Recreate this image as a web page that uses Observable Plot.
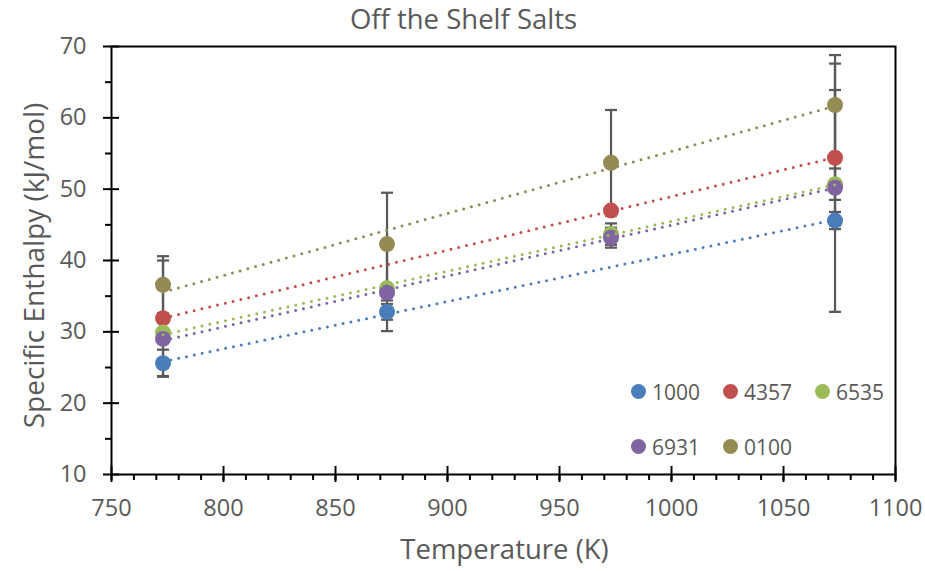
<!DOCTYPE html>
<html><head><meta charset="utf-8">
<script src="https://cdn.jsdelivr.net/npm/d3@7"></script>
<script src="https://cdn.jsdelivr.net/npm/@observablehq/plot@0.6"></script>
<style>
body{margin:0;background:#fff;}
#wrap{position:relative;width:925px;height:571px;font-family:"Open Sans",sans-serif;}
#legend{position:absolute;left:631px;top:376px;display:grid;grid-template-columns:92px 92px 92px;row-gap:24px;}
.item{display:flex;align-items:center;height:31px;font-size:21px;color:#595959;}
.sw{width:15px;height:15px;border-radius:50%;margin-right:6px;flex:none;}
</style></head><body><div id="wrap"><div id="legend"></div></div>
<script>
const chartTitle = "Off the Shelf Salts";
const xLabel = "Temperature (K)";
const yLabel = "Specific Enthalpy (kJ/mol)";
const temperatures = [773, 873, 973, 1073];
const seriesNames = ["1000", "4357", "6535", "6931", "0100"];
const seriesColors = ["#4a7ebb", "#c0504d", "#9bbb59", "#8064a2", "#948a54"];
const enthalpy1000 = [25.6, 32.8, null, 45.6];
const enthalpy4357 = [31.9, null, 47.0, 54.4];
const enthalpy6535 = [29.9, 36.1, 43.7, 50.7];
const enthalpy6931 = [29.0, 35.5, 43.2, 50.2];
const enthalpy0100 = [36.6, 42.3, 53.7, 61.8];
const error1000 = [1.9, 1.1, null, 1.2];
const error4357 = [8.1, null, 0, 9.5];
const error6535 = [0, 6.0, 1.5, 2.2];
const error6931 = [0, 1.1, 1.4, 17.4];
const error0100 = [4.0, 7.2, 7.4, 7.0];
const xTicks = [750, 800, 850, 900, 950, 1000, 1050, 1100];
const xMinorTicks = d3.range(750, 1101, 10);
const yTicks = [10, 20, 30, 40, 50, 60, 70];
const yMinorTicks = [15, 25, 35, 45, 55, 65];

const allValues = [enthalpy1000, enthalpy4357, enthalpy6535, enthalpy6931, enthalpy0100];
const allErrors = [error1000, error4357, error6535, error6931, error0100];
const rows = [];
seriesNames.forEach((name, i) => {
  temperatures.forEach((t, j) => {
    const v = allValues[i][j];
    if (v != null) rows.push({series: name, temperature: t, enthalpy: v, error: allErrors[i][j] || 0});
  });
});
const errRows = rows.filter(d => d.error > 0);
const cap = {draw(ctx) { ctx.moveTo(-6, 0); ctx.lineTo(6, 0); }};
const grey = "#595959";

const chart = Plot.plot({
  width: 925, height: 571,
  marginTop: 46, marginBottom: 97, marginLeft: 111, marginRight: 30,
  style: {fontFamily: "Open Sans, sans-serif", background: "white", overflow: "visible"},
  x: {domain: [750, 1100], label: null},
  y: {domain: [10, 70], label: null},
  color: {domain: seriesNames, range: seriesColors},
  marks: [
    Plot.ruleX(errRows, {x: "temperature", y1: d => d.enthalpy - d.error, y2: d => d.enthalpy + d.error, stroke: grey, strokeWidth: 2.25}),
    Plot.dot(errRows, {x: "temperature", y: d => d.enthalpy + d.error, symbol: cap, fill: "none", stroke: grey, strokeWidth: 2.25}),
    Plot.dot(errRows, {x: "temperature", y: d => d.enthalpy - d.error, symbol: cap, fill: "none", stroke: grey, strokeWidth: 2.25}),
    Plot.dot(rows, {x: "temperature", y: "enthalpy", fill: "series", r: 8}),
    Plot.linearRegressionY(rows, {x: "temperature", y: "enthalpy", stroke: "series", ci: 0, strokeWidth: 3, strokeDasharray: "0 8", strokeLinecap: "round"}),
    Plot.frame({stroke: "black", strokeWidth: 2}),
    Plot.axisX({ticks: xTicks, tickSize: 16, dy: -8, text: null, label: null, stroke: "black", strokeWidth: 2}),
    Plot.axisX({ticks: xMinorTicks, tickSize: 6, text: null, label: null, stroke: "black", strokeWidth: 2}),
    Plot.axisX({ticks: xTicks, tickSize: 0, tickPadding: 25, tickFormat: d => String(d), fontSize: 23.5, fill: grey, label: null}),
    Plot.axisY({ticks: yTicks, tickSize: 16, dx: 8, text: null, label: null, stroke: "black", strokeWidth: 2}),
    Plot.axisY({ticks: yMinorTicks, tickSize: 6, text: null, label: null, stroke: "black", strokeWidth: 2}),
    Plot.axisY({ticks: yTicks, tickSize: 0, tickPadding: 25, tickFormat: d => String(d), fontSize: 23.5, fill: grey, label: null}),
    Plot.text([chartTitle], {text: d => d, frameAnchor: "top", dx: -40, dy: -26, lineAnchor: "middle", fontSize: 27.5, fill: grey}),
    Plot.text([xLabel], {text: d => d, frameAnchor: "bottom", dx: 1, dy: 76, lineAnchor: "middle", fontSize: 27.5, fill: grey}),
    Plot.text([yLabel], {text: d => d, frameAnchor: "left", textAnchor: "middle", dx: -76, dy: 5, rotate: -90, lineAnchor: "middle", fontSize: 28, fill: grey})
  ]
});
document.getElementById("wrap").prepend(chart);

const legend = document.getElementById("legend");
seriesNames.forEach((name, i) => {
  const it = document.createElement("div");
  it.className = "item";
  const sw = document.createElement("span");
  sw.className = "sw";
  sw.style.background = seriesColors[i];
  it.appendChild(sw);
  it.appendChild(document.createTextNode(name));
  legend.appendChild(it);
});
</script>
</body></html>
